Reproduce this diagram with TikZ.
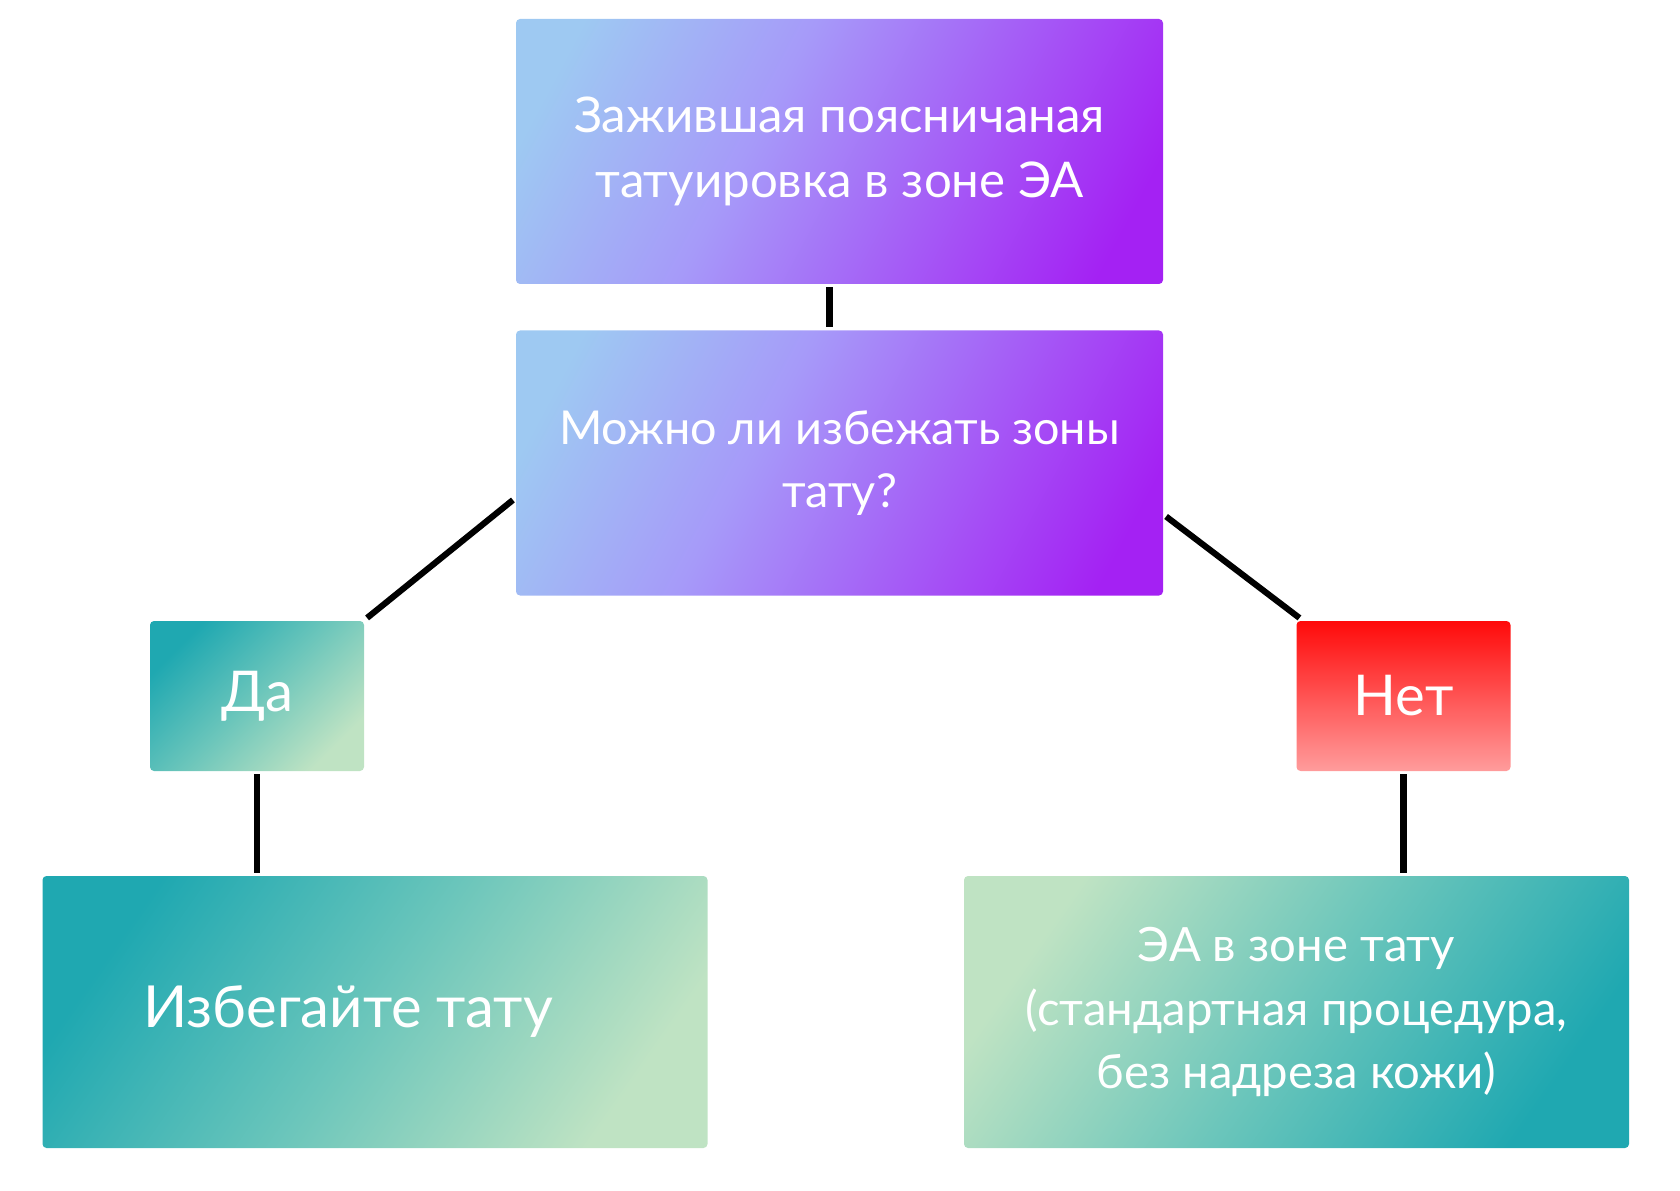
\documentclass[tikz,border=0pt]{standalone}
\usepackage{fontspec}
\setmainfont{Lato}
\usepackage{xcolor}
\usetikzlibrary{positioning, calc}

\definecolor{skyblue}{HTML}{9EC9F2}
\definecolor{lavender}{HTML}{A69AF9}
\definecolor{violet}{HTML}{A421F3}
\definecolor{tealdark}{HTML}{1FA8B1}
\definecolor{tealmid}{HTML}{6CC6BB}
\definecolor{mintpale}{HTML}{BFE3C3}
\definecolor{redtop}{HTML}{FF0A0A}
\definecolor{redbottom}{HTML}{FF9C9C}

% purple fade for the question boxes
\pgfdeclarehorizontalshading{dusk}{100bp}{color(0bp)=(skyblue);
    color(22bp)=(skyblue); color(42bp)=(lavender); color(78bp)=(violet);
    color(100bp)=(violet)}

\begin{document}
\begin{tikzpicture}[
    line width=3.5pt,
    box/.style={rectangle, rounded corners=0.08cm, align=center, text=white,
        inner sep=0pt},
    question/.style={box, minimum width=12.94cm, minimum height=5.3cm,
        shading=dusk, shading angle=-28},
    answer/.style={box, minimum width=4.28cm, minimum height=3cm,
        font=\fontsize{32}{36}\selectfont},
    result/.style={box, minimum width=13.3cm, minimum height=5.44cm},
    link/.style={black, line cap=butt}
]
    \useasboundingbox (0,0) rectangle (33.6,-23.82);
    % --- 1. Question boxes (top) ---
    \node (healed) [question, font=\fontsize{28}{37}\selectfont]
        at (16.79,-3.03) {Зажившая поясничаная\\татуировка в зоне ЭА};
    \node (avoid) [question, font=\fontsize{26.6}{36}\selectfont]
        at (16.79,-9.26) {Можно ли избежать зоны\\тату?};
    % --- 2. Answers ---
    \node (yes) [answer, top color=tealdark, bottom color=mintpale,
        middle color=tealmid, shading angle=45] at (5.14,-13.92) {Да};
    \node (no) [answer, top color=redtop, bottom color=redbottom]
        at (28.07,-13.92) {Нет};
    % --- 3. Results (bottom row) ---
    \node (skip) [result, top color=tealdark, bottom color=mintpale,
        middle color=tealmid, shading angle=55,
        font=\fontsize{33}{36}\selectfont] at (7.5,-20.24)
        {Избегайте тату\hspace*{1.08cm}};
    \node (standard) [result, top color=mintpale, bottom color=tealdark,
        middle color=tealmid, shading angle=55,
        font=\fontsize{26.9}{36}\selectfont] at (25.93,-20.24)
        {ЭА в зоне тату\\(стандартная процедура,\\без надреза кожи)};
    % --- 4. Connectors ---
    \draw[link] ([xshift=-0.2cm]healed.south) -- ([xshift=-0.2cm]avoid.north);
    \draw[link] ([yshift=-0.74cm]avoid.west) -- (yes.north east);
    \draw[link] ([yshift=-1.07cm]avoid.east) -- ([xshift=0.12cm]no.north west);
    \draw[link] (yes.south) -- (yes.south |- skip.north);
    \draw[link] (no.south) -- (no.south |- standard.north);
\end{tikzpicture}
\end{document}
